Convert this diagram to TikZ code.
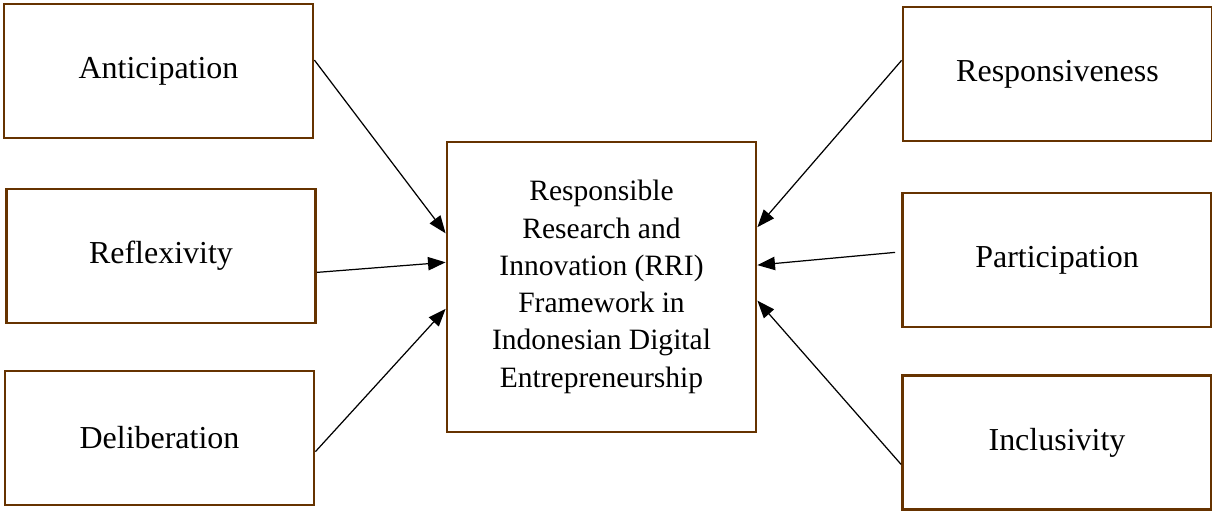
\documentclass[tikz,border=0pt]{standalone}
\usepackage{fontspec}
\setmainfont{Liberation Serif}
\usetikzlibrary{arrows.meta}
\definecolor{framebrown}{HTML}{663300}

\begin{document}
\begin{tikzpicture}[
  pillar/.style={draw=framebrown,line width=0.8pt,minimum width=3.09cm,minimum height=1.34cm,inner sep=0pt,font=\fontsize{9.1}{11}\selectfont},
  core/.style={draw=framebrown,line width=0.8pt,minimum width=3.09cm,minimum height=2.90cm,inner sep=0pt,align=center,font=\fontsize{8.4}{10.6}\selectfont},
  feed/.style={-{Triangle[length=5pt,width=3.8pt]},line width=0.35pt}]
  \useasboundingbox (0,0) rectangle (12.12,5.10);
  \node[core] (rri) at (6.015,2.23) {Responsible\\Research and\\Innovation (RRI)\\Framework in\\Indonesian Digital\\Entrepreneurship};
  \node[pillar] (ant) at (1.585,4.39) {Anticipation};
  \node[pillar] (ref) at (1.610,2.54) {Reflexivity};
  \node[pillar] (del) at (1.595,0.72) {Deliberation};
  \node[pillar] (res) at (10.575,4.36) {Responsiveness};
  \node[pillar] (par) at (10.570,2.50) {Participation};
  \node[pillar] (inc) at (10.570,0.675) {Inclusivity};
  \draw[feed] (ant.4.4) -- (rri.161.6);
  \draw[feed] (ref.354.1) -- (rri.171.3);
  \draw[feed] (del.355.6) -- (rri.188);
  \draw[feed] (res.175.9) -- (rri.21);
  \draw[feed,shorten <=1.7pt] (par.177.4) -- (rri.8.9);
  \draw[feed] (inc.188.9) -- (rri.355.9);
\end{tikzpicture}
\end{document}
